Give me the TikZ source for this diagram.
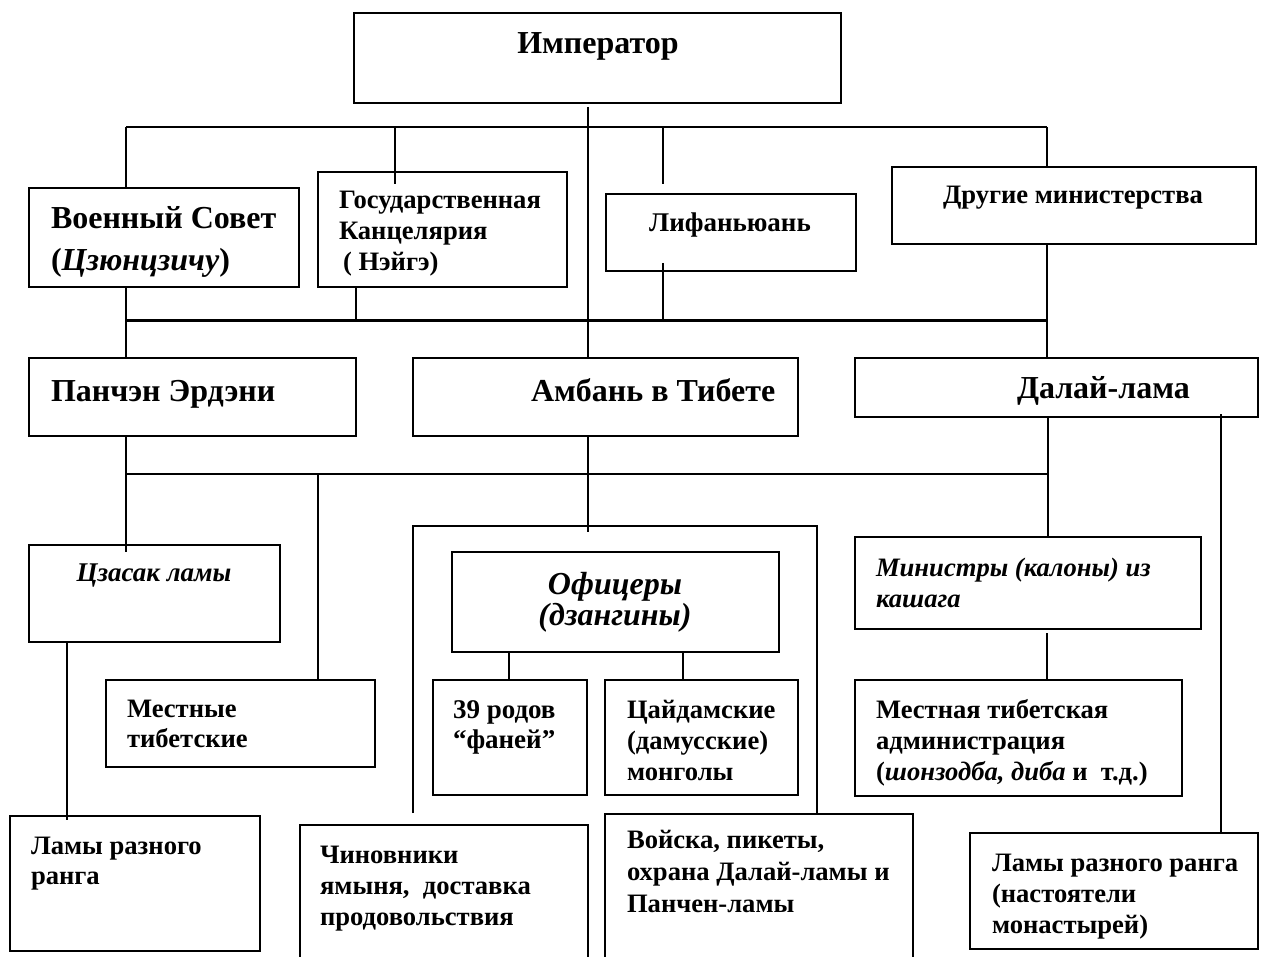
\documentclass[tikz,border=0pt]{standalone}
\usepackage{fontspec}
\setmainfont{Liberation Serif}
\newcommand{\fs}[2]{\fontsize{#1}{#2}\selectfont}
\newcommand{\tl}[1]{\begin{tabular}[t]{@{}l@{}}#1\end{tabular}}
\newcommand{\tc}[1]{\begin{tabular}[t]{@{}c@{}}#1\end{tabular}}
\begin{document}
\begin{tikzpicture}[x=1pt,y=-1pt,
  box/.style={draw, line width=1.4pt, rectangle, inner sep=0pt, outer sep=0pt, anchor=north west},
  hollow/.style={rectangle, inner sep=0pt, outer sep=0pt, anchor=north west},
  conn/.style={line width=1.3pt},
  bus/.style={line width=3pt},
  lt/.style={inner sep=0pt, outer sep=0pt, anchor=base west, font=\bfseries\fs{26.6}{31}},
  ct/.style={inner sep=0pt, outer sep=0pt, anchor=base, font=\bfseries\fs{26.6}{31}},
  big/.style={font=\bfseries\fs{32}{40}}
]
\useasboundingbox[fill=white] (0,0) rectangle (1266,957);

% ---------- boxes ----------
\node[box, minimum width=487, minimum height=90] (imp) at (354,13) {};
\node[box, minimum width=270, minimum height=99] (vs) at (29,188) {};
\node[box, minimum width=249, minimum height=115] (gk) at (318,172) {};
\node[box, minimum width=250, minimum height=77] (lf) at (606,194) {};
\node[box, minimum width=364, minimum height=77] (dm) at (892,167) {};
\node[box, minimum width=327, minimum height=78] (pe) at (29,358) {};
\node[box, minimum width=385, minimum height=78] (am) at (413,358) {};
\node[box, minimum width=403, minimum height=59] (dl) at (855,358) {};
\node[box, minimum width=251, minimum height=97] (cz) at (29,545) {};
\node[box, minimum width=327, minimum height=100] (of) at (452,552) {};
\node[box, minimum width=346, minimum height=92] (mi) at (855,537) {};
\node[box, minimum width=269, minimum height=87] (mtb) at (106,680) {};
\node[box, minimum width=154, minimum height=115] (r39) at (433,680) {};
\node[box, minimum width=193, minimum height=115] (cd) at (605,680) {};
\node[box, minimum width=327, minimum height=116] (mt) at (855,680) {};
\node[box, minimum width=250, minimum height=135] (ll) at (10,816) {};
\node[box, minimum width=288, minimum height=116] (lr) at (970,833) {};
\node[hollow, minimum width=288, minimum height=132] (ch) at (300,825) {};
\node[hollow, minimum width=308, minimum height=143] (vo) at (605,814) {};
\draw[line width=1.4pt] (ch.south west) -- (ch.north west) -- (ch.north east) -- (ch.south east);
\draw[line width=1.4pt] (vo.south west) -- (vo.north west) -- (vo.north east) -- (vo.south east);

% ---------- texts ----------
\node[ct, big] (timp) at (598,54) {Император};
\node[lt, font=\bfseries\fs{32}{42}] (tvs) at (51,229) {\tl{Военный Совет\\(\textit{Цзюнцзичу})}};
\node[lt] (tgk) at (339,209) {\tl{Государственная\\Канцелярия\\\hspace{4pt}( Нэйгэ)}};
\node[ct, font=\bfseries\fs{27}{31}] (tlf) at (730,232) {Лифаньюань};
\node[ct] (tdm) at (1073,204) {Другие министерства};
\node[lt, big] (tpe) at (51,401) {Панчэн Эрдэни};
\node[lt, big] (tam) at (531,401) {Амбань в Тибете};
\node[lt, big] (tdl) at (1017,399) {Далай-лама};
\node[ct, font=\bfseries\itshape\fs{27}{31}] (tcz) at (154,581) {Цзасак ламы};
\node[ct, font=\bfseries\itshape\fs{32}{31}] (tof) at (615,594) {\tc{Офицеры\\(дзангины)}};
\node[lt, font=\bfseries\itshape\fs{26.6}{31}] (tmi) at (876,576) {\tl{Министры (калоны) из\\кашага}};
\node[lt, font=\bfseries\fs{26.6}{30}] (tmtb) at (127,717) {\tl{Местные\\тибетские}};
\node[lt, font=\bfseries\fs{27}{30}] (tr39) at (453,718) {\tl{39 родов\\“фаней”}};
\node[lt] (tcd) at (627,718) {\tl{Цайдамские\\(дамусские)\\монголы}};
\node[lt] (tmt) at (876,718) {\tl{Местная тибетская\\администрация\\(\textit{шонзодба, диба} и\ \ т.д.)}};
\node[lt, font=\bfseries\fs{26.6}{30}] (tll) at (31,854) {\tl{Ламы разного\\ранга}};
\node[lt] (tch) at (320,863) {\tl{Чиновники\\ямыня,\ \ доставка\\продовольствия}};
\node[lt, font=\bfseries\fs{26.6}{32}] (tvo) at (627,848) {\tl{Войска, пикеты,\\охрана Далай-ламы и\\Панчен-ламы}};
\node[lt] (tlr) at (992,871) {\tl{Ламы разного ранга\\(настоятели\\монастырей)}};

% ---------- connectors ----------
\coordinate (b1l) at (126,127);
\coordinate (b1r) at (1047,127);
\draw[conn] (b1l) -- (b1r);
\draw[conn] (b1l) -- (vs.north -| b1l);
\draw[conn] (395,127) -- (395,184);
\draw[conn] (663,127) -- (663,184);
\draw[conn] (b1r) -- (dm.north -| b1r);
\draw[conn] (588,107) -- (am.north -| 588,0);

\coordinate (b2l) at (126,321);
\coordinate (b2r) at (1047,321);
\draw[bus] (b2l) -- (b2r);
\draw[conn] (vs.south -| b2l) -- (pe.north -| b2l);
\draw[conn] (gk.south -| 356,0) -- (356,321);
\draw[conn] (663,263) -- (663,321);
\draw[conn] (dm.south -| b2r) -- (dl.north -| b2r);

\coordinate (b3l) at (126,474);
\coordinate (b3r) at (1048,474);
\draw[conn] (b3l) -- (b3r);
\draw[conn] (pe.south -| b3l) -- (126,552);
\draw[conn] (318,474) -- (mtb.north -| 318,0);
\draw[conn] (am.south -| 588,0) -- (588,532);
\draw[conn] (dl.south -| b3r) -- (mi.north -| b3r);
\draw[conn] (1221,414) -- (lr.north -| 1221,0);
\draw[conn] (cz.south -| 67,0) -- (67,820);
\draw[conn] (413,813) -- (413,526) -- (817,526) -- (vo.north -| 817,0);
\draw[conn] (of.south -| 509,0) -- (r39.north -| 509,0);
\draw[conn] (of.south -| 683,0) -- (cd.north -| 683,0);
\draw[conn] (1047,633) -- (mt.north -| 1047,0);
\end{tikzpicture}
\end{document}
